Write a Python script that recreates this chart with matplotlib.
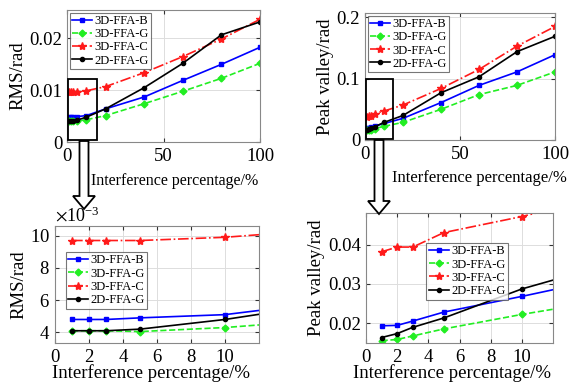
'''
RMS and peak-valley error versus interference percentage
'''
import matplotlib
matplotlib.use('Agg')
import matplotlib.pyplot as plt
from matplotlib.patches import Polygon, Rectangle
from matplotlib.ticker import FuncFormatter

plt.rcParams['font.family'] = ['Liberation Serif', 'DejaVu Serif']
plt.rcParams['mathtext.fontset'] = 'stix'

percent = [1, 2, 3, 5, 10, 20, 40, 60, 80, 100]
labels = ['3D-FFA-B', '3D-FFA-G', '3D-FFA-C', '2D-FFA-G']

rms_b = [0.0048, 0.0048, 0.0048, 0.0049, 0.0051, 0.0064, 0.0087, 0.0119, 0.0150, 0.0183]
rms_g = [0.0041, 0.0041, 0.0041, 0.00405, 0.0043, 0.0051, 0.0074, 0.0098, 0.0123, 0.0152]
rms_c = [0.0097, 0.0097, 0.0097, 0.0097, 0.0099, 0.0107, 0.0134, 0.0165, 0.0199, 0.0237]
rms_2d = [0.0041, 0.0041, 0.0041, 0.0042, 0.0048, 0.0064, 0.0105, 0.0152, 0.0207, 0.0232]

pv_b = [0.0193, 0.0194, 0.0205, 0.0228, 0.0268, 0.0353, 0.061, 0.089, 0.111, 0.139]
pv_g = [0.0155, 0.0158, 0.0167, 0.0185, 0.0222, 0.0288, 0.050, 0.074, 0.089, 0.111]
pv_c = [0.0382, 0.0394, 0.0394, 0.0431, 0.0472, 0.057, 0.084, 0.115, 0.153, 0.185]
pv_2d = [0.0163, 0.0173, 0.0189, 0.0213, 0.0287, 0.040, 0.077, 0.103, 0.144, 0.169]

styles = [
    dict(color='#0000ff', ls='-', marker='s', ms=3.5),
    dict(color='#22ee22', ls='--', marker='D', ms=3.5),
    dict(color='#ff1a1a', ls='-.', marker='*', ms=6),
    dict(color='black', ls='-', marker='.', ms=6),
]

W, H = 574, 389


def fig_xy(px, py):
    'Pixel position (from top left) to figure fraction'
    return (px / W, 1 - py / H)


def add_axes(fig, left, top, right, bottom):
    'Axes placed by pixel edges'
    x0, y1 = fig_xy(left, top)
    x1, y0 = fig_xy(right, bottom)
    ax = fig.add_axes([x0, y0, x1 - x0, y1 - y0])
    return ax


def draw(ax, series, ylabel, xsize, xpos, xpad):
    'Plot the four methods on one axes'
    for values, label, st in zip(series, labels, styles):
        ax.plot(percent, values, label=label, lw=1.2, mec=st['color'],
                **st)
    ax.set_ylabel(ylabel, fontsize=13.5, labelpad=2)
    ax.set_xlabel('Interference percentage/%', fontsize=xsize, labelpad=xpad,
                  x=xpos)
    ax.grid(True, color='#dddddd', lw=0.7)
    ax.tick_params(direction='in', labelsize=13.5, length=3, colors='#333333',
                   labelcolor='black', top=True, right=True)
    ax.tick_params(axis='x', pad=4)
    for sp in ax.spines.values():
        sp.set_color('#888888')
        sp.set_linewidth(0.8)


def legend(ax, loc, anchor):
    leg = ax.legend(loc=loc, bbox_to_anchor=anchor, fontsize=9, frameon=True,
                    fancybox=False, edgecolor='#555555', handlelength=1.6,
                    handletextpad=0.2, borderpad=0.2, labelspacing=0.1,
                    borderaxespad=0.2)
    leg.get_frame().set_linewidth(0.8)


def arrow(fig, cx, top, tip):
    'Hollow down arrow in pixel coordinates'
    sw, hw, hl = 4.5, 11, 13
    pts = [(cx - sw, top), (cx + sw, top), (cx + sw, tip - hl),
           (cx + hw, tip - hl), (cx, tip), (cx - hw, tip - hl),
           (cx - sw, tip - hl)]
    fig.patches.append(Polygon([fig_xy(x, y) for x, y in pts], closed=True,
                               facecolor='white', edgecolor='black', lw=1.3,
                               transform=fig.transFigure, zorder=5))


fmt = FuncFormatter(lambda v, pos: f'{v:g}')

fig = plt.figure(figsize=(W / 100, H / 100), dpi=100)

ax1 = add_axes(fig, 67, 10, 260, 142)
draw(ax1, [rms_b, rms_g, rms_c, rms_2d], 'RMS/rad', 11.5, 0.56, 6)
ax1.set_xlim(0, 100)
ax1.set_ylim(0, 0.0255)
ax1.set_xticks([0, 50, 100])
ax1.set_yticks([0, 0.01, 0.02])
ax1.yaxis.set_major_formatter(fmt)
legend(ax1, 'upper left', (0.0, 1.0))
ax1.add_patch(Rectangle((0.3, 0.0004), 15.2, 0.0117, fill=False,
                        edgecolor='black', lw=1.3, zorder=6, clip_on=False))

ax2 = add_axes(fig, 365, 13, 555, 140)
draw(ax2, [pv_b, pv_g, pv_c, pv_2d], 'Peak valley/rad', 12, 0.6, 5)
ax2.set_xlim(0, 100)
ax2.set_ylim(0, 0.207)
ax2.set_xticks([0, 50, 100])
ax2.set_yticks([0, 0.1, 0.2])
ax2.yaxis.set_major_formatter(fmt)
legend(ax2, 'upper left', (0.0, 1.0))
ax2.add_patch(Rectangle((0.3, 0.001), 14.5, 0.099, fill=False,
                        edgecolor='black', lw=1.3, zorder=6, clip_on=False))

ax3 = add_axes(fig, 55, 226, 259, 343)
draw(ax3, [rms_b, rms_g, rms_c, rms_2d], 'RMS/rad', 13.5, 0.47, -1)
ax3.set_xlim(0, 12)
ax3.set_ylim(0.00334, 0.0106)
ax3.set_xticks([0, 2, 4, 6, 8, 10])
ax3.set_yticks([0.004, 0.006, 0.008, 0.010])
ax3.ticklabel_format(axis='y', style='sci', scilimits=(-3, -3), useMathText=True)
ax3.yaxis.get_offset_text().set_fontsize(13)
legend(ax3, 'upper left', (0.04, 0.8))

ax4 = add_axes(fig, 366, 213, 553, 343)
draw(ax4, [pv_b, pv_g, pv_c, pv_2d], 'Peak valley/rad', 13.5, 0.46, -1)
ax4.set_xlim(0, 12)
ax4.set_ylim(0.0149, 0.0481)
ax4.set_xticks([0, 2, 4, 6, 8, 10])
ax4.set_yticks([0.02, 0.03, 0.04])
ax4.yaxis.set_major_formatter(fmt)
legend(ax4, 'upper left', (0.31, 0.79))

arrow(fig, 84, 141, 209)
arrow(fig, 379, 140, 214)

fig.savefig('out.png', dpi=100)
